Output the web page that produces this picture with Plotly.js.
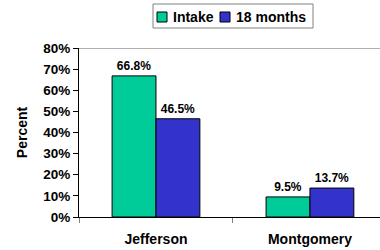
<!DOCTYPE html>
<html>
<head>
<meta charset="utf-8">
<script src="https://cdn.plot.ly/plotly-3.0.1.min.js"></script>
<style>html,body{margin:0;padding:0;background:#fff;}</style>
</head>
<body>
<div id="chart" style="width:380px;height:250px;"></div>
<script>
const categories = ["Jefferson", "Montgomery"];
const intake = [66.8, 9.5];
const months18 = [46.5, 13.7];
const seriesNames = ["Intake", "18 months"];
const seriesColors = ["#00CC99", "#3333CC"];
const yTicks = [0, 10, 20, 30, 40, 50, 60, 70, 80];

const FAM = "Arial, Liberation Sans, sans-serif";
function bar(name, vals, color) {
  return {
    type: "bar", name: name, x: categories, y: vals,
    marker: {color: color, line: {color: "#000", width: 1}},
    texttemplate: "%{y:.1f}%", textposition: "outside", cliponaxis: false,
    textfont: {family: FAM, size: 12, weight: "bold", color: "#000"},
    hoverinfo: "none", showlegend: false
  };
}
const data = [bar(seriesNames[0], intake, seriesColors[0]), bar(seriesNames[1], months18, seriesColors[1])];

// custom legend (paper coords; plot area px 79..380 x, 48..217 y)
const px = v => (v - 79) / 301;
const py = v => (217 - v) / 169;
const legendSquares = [157, 220];
const legendTextX = [171, 234];
const shapes = [
  {type: "line", xref: "paper", x0: 0, x1: 1, yref: "y", y0: 80, y1: 80, line: {color: "#606060", width: 1}},
  {type: "rect", xref: "paper", yref: "paper", x0: px(153), x1: px(313), y0: py(28), y1: py(4),
    line: {color: "#808080", width: 1}, fillcolor: "#fff"}
];
const annotations = [];
seriesNames.forEach((n, i) => {
  shapes.push({type: "rect", xref: "paper", yref: "paper", x0: px(legendSquares[i]), x1: px(legendSquares[i] + 10),
    y0: py(22), y1: py(12), line: {color: "#000", width: 1}, fillcolor: seriesColors[i]});
  annotations.push({xref: "paper", yref: "paper", x: px(legendTextX[i]), y: py(17), xanchor: "left", yanchor: "middle",
    text: n, showarrow: false, font: {family: FAM, size: 14, weight: "bold", color: "#000"}});
});

const layout = {
  width: 380, height: 250,
  margin: {l: 79, r: 0, t: 48, b: 33},
  paper_bgcolor: "#fff", plot_bgcolor: "#fff",
  barmode: "group", bargap: 0.43, bargroupgap: 0,
  showlegend: false,
  xaxis: {type: "category", range: [-0.5, 1.455], showline: true, linecolor: "#000", linewidth: 1,
    ticks: "outside", tickson: "boundaries", ticklen: 5, tickcolor: "#808080",
    showgrid: false, zeroline: false, fixedrange: true,
    tickfont: {family: FAM, size: 14, weight: "bold", color: "#000"}, ticklabelstandoff: 9},
  yaxis: {range: [0, 80], tickvals: yTicks, ticktext: yTicks.map(v => v + "%"),
    showline: true, linecolor: "#000", linewidth: 1, ticks: "outside", ticklen: 5, tickcolor: "#000",
    showgrid: false, zeroline: false, fixedrange: true,
    tickfont: {family: FAM, size: 13.5, weight: "bold", color: "#000"},
    title: {text: "Percent", standoff: 12, font: {family: FAM, size: 14, weight: "bold", color: "#000"}}},
  shapes: shapes,
  annotations: annotations
};
Plotly.newPlot("chart", data, layout, {staticPlot: true, displayModeBar: false});
</script>
</body>
</html>
